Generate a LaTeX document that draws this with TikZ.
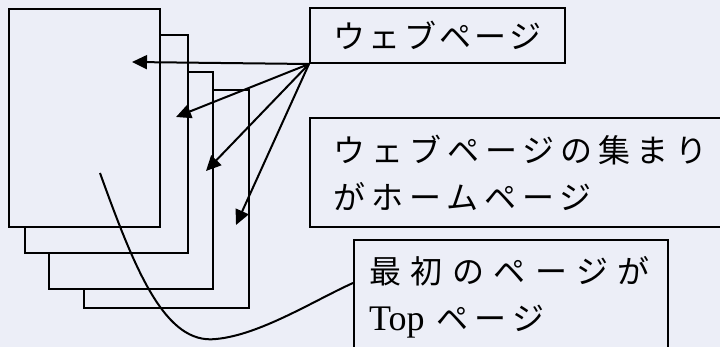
\documentclass[tikz,border=0pt]{standalone}
\usepackage{fontspec}
\newfontfamily\jpa[LetterSpace=10]{Noto Sans CJK JP}
\newfontfamily\jpb[LetterSpace=19]{Noto Sans CJK JP}
\newfontfamily\jpc[LetterSpace=30]{Noto Sans CJK JP}
\newfontfamily\latn{Liberation Serif}
\usetikzlibrary{arrows.meta,calc}
\definecolor{paper}{RGB}{236,238,247}
\tikzset{
  pg/.style={draw=black, fill=paper, line width=2pt},
  lbl/.style={draw=black, line width=2pt, inner ysep=0pt, anchor=north west, align=left},
  arr/.style={line width=2pt, -{Triangle[length=15pt,width=14pt]}},
  jptext/.style={font=\fontsize{32}{47}\selectfont}
}
\begin{document}
\begin{tikzpicture}[x=1pt,y=-1pt]
\useasboundingbox[fill=paper] (0,0) rectangle (720,347);
\clip (0,0) rectangle (720,347);
% pages, back to front
\draw[pg] (84,90) rectangle (249,308);
\draw[pg] (49,72) rectangle (213,289);
\draw[pg] (25,35) rectangle (188,253);
\draw[pg] (9,9) rectangle (160,227);
% labels
\node[lbl, jptext, minimum width=255pt, minimum height=55pt, align=center, inner xsep=0pt] (web) at (309,7) {\jpa ウェブページ};
\node[lbl, jptext, text width=400pt, inner xsep=23pt, minimum height=109pt] (home) at (309,117) {\jpb ウェブページの集まり\\\jpb がホームページ};
\node[lbl, jptext, text width=284pt, inner xsep=15pt, minimum height=115pt] (top) at (353,239) {\jpc 最初のページが\\{\fontsize{36}{47}\selectfont\latn Top}\kern12pt{\jpb ページ}};
% arrow targets
\coordinate (t1) at (132,62);
\coordinate (t2) at (176,117);
\coordinate (t3) at (206,171);
\coordinate (t4) at (236,225);
\coordinate (cs) at (100,173);
\coordinate (cb) at (216,339);
\coordinate (ce) at ($(top.north west)+(0,44)$);
\draw[arr] (web.south west) -- (t1);
\draw[arr] (web.south west) -- (t2);
\draw[arr] (web.south west) -- (t3);
\draw[arr] (web.south west) -- (t4);
\draw[line width=2pt] (cs) .. controls (135,270) and (165,345) .. (cb) .. controls (260,335) and (315,300) .. (ce);
\end{tikzpicture}
\end{document}
